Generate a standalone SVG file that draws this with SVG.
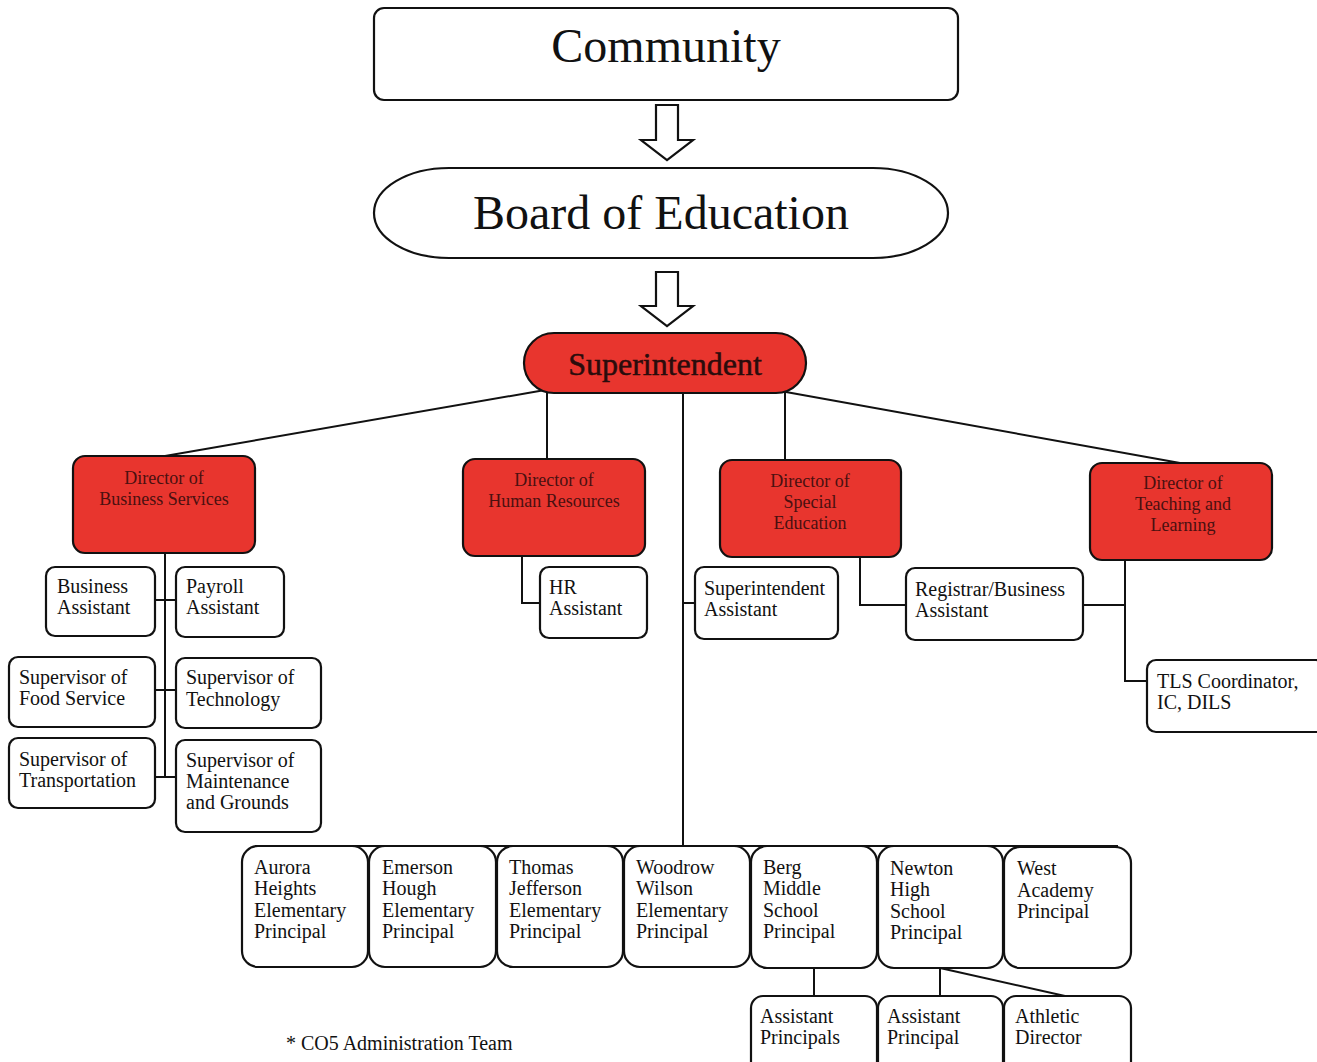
<svg xmlns="http://www.w3.org/2000/svg" width="1317" height="1062" viewBox="0 0 1317 1062">
<style>
.box{fill:#fff;stroke:#111;stroke-width:2.2}
.red{fill:#e8352e;stroke:#111;stroke-width:2.2}
.t{font-family:"Liberation Serif",serif;font-size:20px;fill:#111}
.big{font-family:"Liberation Serif",serif;font-size:48px;fill:#111;text-anchor:middle}
.rt{font-family:"Liberation Serif",serif;font-size:18px;fill:#4a1010;text-anchor:middle}
.ln{fill:none;stroke:#111;stroke-width:2}
</style>
<rect width="1317" height="1062" fill="#fff"/>
<g id="connectors">
<polygon class="box" points="656,105 678,105 678,140 693,140 667,160 641,140 656,140"/>
<polygon class="box" points="656,272 678,272 678,306 693,306 667,326 641,306 656,306"/>
<path class="ln" d="M545,390 L165,456"/>
<path class="ln" d="M786,392 L1180,463"/>
<path class="ln" d="M547,390 V459"/>
<path class="ln" d="M785,392 V461"/>
<path class="ln" d="M683,394 V846"/>
<path class="ln" d="M165,553 V777"/>
<path class="ln" d="M155,600 H177 M155,690 H177 M155,777 H177"/>
<path class="ln" d="M522,556 V603 H540"/>
<path class="ln" d="M683,603 H695"/>
<path class="ln" d="M860,557 V605 H906"/>
<path class="ln" d="M1083,605 H1125"/>
<path class="ln" d="M1125,560 V681 H1147"/>
<path class="ln" d="M255,846 H1118"/>
<path class="ln" d="M814,968 V996"/>
<path class="ln" d="M940,968 V996"/>
<path class="ln" d="M940,968 L1065,996"/>
</g>
<g id="community"><rect class="box" x="374" y="8" width="584" height="92" rx="10"/><text class="big" x="666" y="62">Community</text></g>
<g id="board"><rect class="box" x="374" y="168" width="574" height="90" rx="75" ry="45"/><text class="big" x="661" y="229">Board of Education</text></g>
<g id="superintendent"><rect class="red" x="524" y="333" width="282" height="60" rx="30"/><text x="665" y="375" style="font-family:'Liberation Serif',serif;font-size:32px;fill:#2a0c0c;text-anchor:middle;stroke:#2a0c0c;stroke-width:0.5">Superintendent</text></g>
<g id="dir-business"><rect class="red" x="73" y="456" width="182" height="97" rx="12"/><text class="rt" x="164" y="484">Director of</text><text class="rt" x="164" y="505">Business Services</text></g>
<g id="dir-hr"><rect class="red" x="463" y="459" width="182" height="97" rx="12"/><text class="rt" x="554" y="486">Director of</text><text class="rt" x="554" y="507">Human Resources</text></g>
<g id="dir-sped"><rect class="red" x="720" y="460" width="181" height="97" rx="12"/><text class="rt" x="810" y="487">Director of</text><text class="rt" x="810" y="508">Special</text><text class="rt" x="810" y="529">Education</text></g>
<g id="dir-tl"><rect class="red" x="1090" y="463" width="182" height="97" rx="12"/><text class="rt" x="1183" y="489">Director of</text><text class="rt" x="1183" y="510">Teaching and</text><text class="rt" x="1183" y="531">Learning</text></g>
<g id="business-asst"><rect class="box" x="46" y="567" width="109" height="69" rx="9"/><text class="t" x="57" y="593">Business</text><text class="t" x="57" y="614">Assistant</text></g>
<g id="payroll-asst"><rect class="box" x="176" y="567" width="108" height="70" rx="9"/><text class="t" x="186" y="593">Payroll</text><text class="t" x="186" y="614">Assistant</text></g>
<g id="food"><rect class="box" x="9" y="657" width="146" height="70" rx="9"/><text class="t" x="19" y="684">Supervisor of</text><text class="t" x="19" y="705">Food Service</text></g>
<g id="tech"><rect class="box" x="176" y="658" width="145" height="70" rx="9"/><text class="t" x="186" y="684">Supervisor of</text><text class="t" x="186" y="706">Technology</text></g>
<g id="transport"><rect class="box" x="9" y="738" width="146" height="70" rx="9"/><text class="t" x="19" y="766">Supervisor of</text><text class="t" x="19" y="787">Transportation</text></g>
<g id="maint"><rect class="box" x="176" y="740" width="145" height="92" rx="9"/><text class="t" x="186" y="767">Supervisor of</text><text class="t" x="186" y="788">Maintenance</text><text class="t" x="186" y="809">and Grounds</text></g>
<g id="hr-asst"><rect class="box" x="540" y="567" width="107" height="71" rx="9"/><text class="t" x="549" y="594">HR</text><text class="t" x="549" y="615">Assistant</text></g>
<g id="supt-asst"><rect class="box" x="695" y="567" width="143" height="72" rx="9"/><text class="t" x="704" y="595">Superintendent</text><text class="t" x="704" y="616">Assistant</text></g>
<g id="registrar"><rect class="box" x="906" y="568" width="177" height="72" rx="9"/><text class="t" x="915" y="596">Registrar/Business</text><text class="t" x="915" y="617">Assistant</text></g>
<g id="tls"><rect class="box" x="1147" y="660" width="178" height="72" rx="9"/><text class="t" x="1157" y="688">TLS Coordinator,</text><text class="t" x="1157" y="709">IC, DILS</text></g>
<g id="aurora"><rect class="box" x="242" y="846" width="126" height="121" rx="16"/><text class="t" x="254" y="874">Aurora</text><text class="t" x="254" y="895">Heights</text><text class="t" x="254" y="917">Elementary</text><text class="t" x="254" y="938">Principal</text></g>
<g id="emerson"><rect class="box" x="369" y="846" width="127" height="121" rx="16"/><text class="t" x="382" y="874">Emerson</text><text class="t" x="382" y="895">Hough</text><text class="t" x="382" y="917">Elementary</text><text class="t" x="382" y="938">Principal</text></g>
<g id="thomas"><rect class="box" x="497" y="846" width="126" height="121" rx="16"/><text class="t" x="509" y="874">Thomas</text><text class="t" x="509" y="895">Jefferson</text><text class="t" x="509" y="917">Elementary</text><text class="t" x="509" y="938">Principal</text></g>
<g id="woodrow"><rect class="box" x="624" y="846" width="126" height="121" rx="16"/><text class="t" x="636" y="874">Woodrow</text><text class="t" x="636" y="895">Wilson</text><text class="t" x="636" y="917">Elementary</text><text class="t" x="636" y="938">Principal</text></g>
<g id="berg"><rect class="box" x="751" y="846" width="126" height="122" rx="16"/><text class="t" x="763" y="874">Berg</text><text class="t" x="763" y="895">Middle</text><text class="t" x="763" y="917">School</text><text class="t" x="763" y="938">Principal</text></g>
<g id="newton"><rect class="box" x="878" y="846" width="125" height="122" rx="16"/><text class="t" x="890" y="875">Newton</text><text class="t" x="890" y="896">High</text><text class="t" x="890" y="918">School</text><text class="t" x="890" y="939">Principal</text></g>
<g id="west"><rect class="box" x="1004" y="847" width="127" height="121" rx="16"/><text class="t" x="1017" y="875">West</text><text class="t" x="1017" y="897">Academy</text><text class="t" x="1017" y="918">Principal</text></g>
<g id="berg-ap"><rect class="box" x="751" y="996" width="126" height="80" rx="12"/><text class="t" x="760" y="1023">Assistant</text><text class="t" x="760" y="1044">Principals</text></g>
<g id="newton-ap"><rect class="box" x="878" y="996" width="125" height="80" rx="12"/><text class="t" x="887" y="1023">Assistant</text><text class="t" x="887" y="1044">Principal</text></g>
<g id="athletic"><rect class="box" x="1004" y="996" width="127" height="80" rx="12"/><text class="t" x="1015" y="1023">Athletic</text><text class="t" x="1015" y="1044">Director</text></g>
<text class="t" x="286" y="1050" style="font-size:20px">* CO5 Administration Team</text>
</svg>
